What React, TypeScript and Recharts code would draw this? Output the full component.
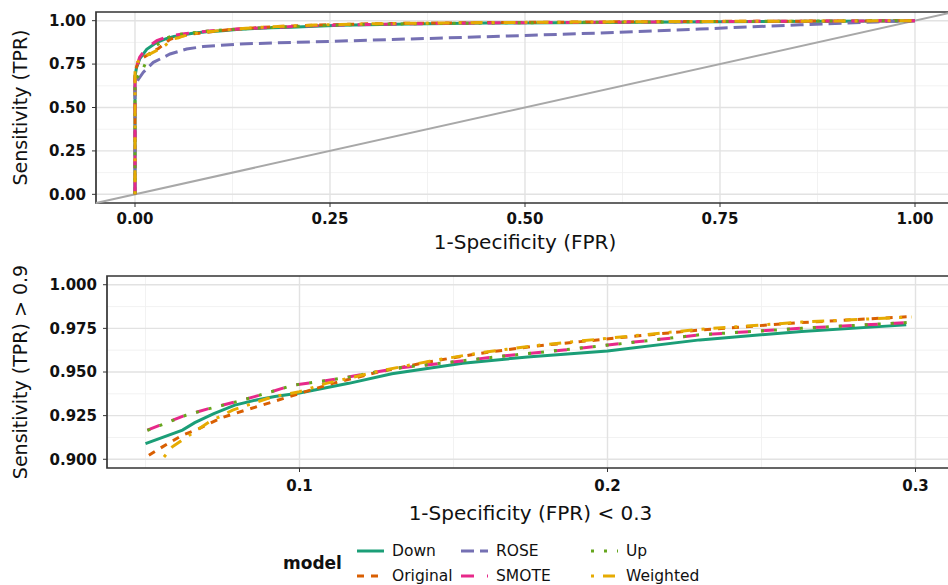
import React from "react";
import {
  CartesianGrid,
  Label,
  Line,
  LineChart,
  ReferenceArea,
  ReferenceLine,
  XAxis,
  YAxis,
} from "recharts";

const FONT = "'DejaVu Sans', sans-serif";

const models = ["Down", "Original", "ROSE", "SMOTE", "Up", "Weighted"];

const colors: Record<string, string> = {
  Down: "#1B9E77",
  Original: "#D95F02",
  ROSE: "#7570B3",
  SMOTE: "#E7298A",
  Up: "#66A61E",
  Weighted: "#E6AB02",
};

const dashes: Record<string, string | undefined> = {
  Down: undefined,
  Original: "7 7",
  ROSE: "13 6",
  SMOTE: "13 13",
  Up: "3 10",
  Weighted: "3 9 12 9",
};

// ROC points (fpr = 1-specificity, tpr = sensitivity)
const downFpr = [0, 0, 0.002, 0.006, 0.015, 0.028, 0.04, 0.05, 0.062, 0.066, 0.072, 0.079, 0.086, 0.092, 0.1, 0.116, 0.13, 0.153, 0.175, 0.2, 0.23, 0.263, 0.297, 0.35, 0.45, 0.6, 0.75, 0.9, 1];
const downTpr = [0, 0.68, 0.73, 0.78, 0.835, 0.875, 0.897, 0.909, 0.9167, 0.921, 0.926, 0.931, 0.934, 0.936, 0.938, 0.9435, 0.949, 0.955, 0.9588, 0.962, 0.9684, 0.9732, 0.977, 0.981, 0.986, 0.99, 0.994, 0.997, 1];

const originalFpr = [0, 0, 0.003, 0.01, 0.02, 0.03, 0.04, 0.045, 0.0511, 0.0555, 0.062, 0.0674, 0.075, 0.0826, 0.0913, 0.1, 0.1108, 0.1261, 0.1423, 0.1586, 0.1749, 0.1912, 0.2053, 0.2303, 0.2629, 0.2987, 0.35, 0.45, 0.6, 0.75, 0.9, 1];
const originalTpr = [0, 0.7, 0.75, 0.785, 0.815, 0.84, 0.875, 0.893, 0.9023, 0.9071, 0.9138, 0.9176, 0.924, 0.9282, 0.9329, 0.9377, 0.9435, 0.9502, 0.9559, 0.9607, 0.9645, 0.9674, 0.9699, 0.9741, 0.9783, 0.9818, 0.985, 0.989, 0.993, 0.996, 0.998, 1];

const roseFpr = [0, 0, 0.004, 0.0107, 0.0235, 0.0449, 0.0662, 0.0876, 0.109, 0.135, 0.25, 0.4, 0.5, 0.596, 0.724, 0.853, 0.95, 1];
const roseTpr = [0, 0.62, 0.66, 0.703, 0.76, 0.808, 0.837, 0.851, 0.858, 0.866, 0.881, 0.901, 0.915, 0.929, 0.952, 0.976, 0.993, 1];

const smoteFpr = [0, 0, 0.002, 0.006, 0.015, 0.028, 0.04, 0.0506, 0.0631, 0.0707, 0.0805, 0.0891, 0.0978, 0.1065, 0.1163, 0.1315, 0.1478, 0.1641, 0.1858, 0.2053, 0.2303, 0.2629, 0.2976, 0.35, 0.45, 0.6, 0.75, 0.9, 1];
const smoteTpr = [0, 0.66, 0.735, 0.79, 0.845, 0.885, 0.905, 0.9167, 0.9253, 0.9291, 0.9335, 0.9377, 0.9425, 0.9444, 0.9473, 0.9521, 0.9553, 0.9588, 0.9626, 0.9665, 0.9713, 0.9751, 0.9783, 0.982, 0.987, 0.991, 0.995, 0.998, 1];

const upFpr = [0, 0, 0.004, 0.009, 0.019, 0.028, 0.04, 0.0506, 0.0631, 0.0707, 0.0805, 0.0891, 0.0978, 0.1065, 0.1163, 0.1315, 0.1478, 0.1641, 0.1858, 0.2053, 0.2303, 0.2629, 0.2976, 0.35, 0.45, 0.6, 0.75, 0.9, 1];
const upTpr = [0, 0.66, 0.68, 0.71, 0.81, 0.86, 0.9, 0.9165, 0.9252, 0.929, 0.9334, 0.9378, 0.9424, 0.9445, 0.9472, 0.9522, 0.9554, 0.9587, 0.9627, 0.9664, 0.9714, 0.975, 0.9784, 0.982, 0.987, 0.991, 0.995, 0.998, 1];

const weightedFpr = [0, 0, 0.003, 0.01, 0.02, 0.035, 0.045, 0.05, 0.056, 0.0587, 0.0642, 0.0707, 0.0783, 0.0913, 0.1, 0.1087, 0.1261, 0.1423, 0.1586, 0.1749, 0.1912, 0.2053, 0.2303, 0.2629, 0.2987, 0.35, 0.45, 0.6, 0.75, 0.9, 1];
const weightedTpr = [0, 0.72, 0.76, 0.79, 0.81, 0.845, 0.88, 0.8965, 0.9013, 0.9071, 0.9138, 0.9214, 0.9282, 0.9358, 0.9387, 0.9435, 0.9506, 0.9562, 0.961, 0.9648, 0.9678, 0.9702, 0.9745, 0.9786, 0.9815, 0.985, 0.989, 0.993, 0.996, 0.998, 1];

const topTicks = [0, 0.25, 0.5, 0.75, 1];
const topMinor = [0.125, 0.375, 0.625, 0.875];
const zoomXTicks = [0.1, 0.2, 0.3];
const zoomXMinor = [0.05, 0.15, 0.25];
const zoomYTicks = [0.9, 0.925, 0.95, 0.975, 1];
const zoomYMinor = [0.9125, 0.9375, 0.9625, 0.9875];

const zip = (xs: number[], ys: number[]) => xs.map((x, i) => ({ fpr: x, tpr: ys[i] }));

const rocData: Record<string, { fpr: number; tpr: number }[]> = {
  Down: zip(downFpr, downTpr),
  Original: zip(originalFpr, originalTpr),
  ROSE: zip(roseFpr, roseTpr),
  SMOTE: zip(smoteFpr, smoteTpr),
  Up: zip(upFpr, upTpr),
  Weighted: zip(weightedFpr, weightedTpr),
};

// lower panel: the same curves cut to FPR 0.05-0.3 and TPR > 0.9
const zoomData: Record<string, { fpr: number; tpr: number }[]> = {};
models.forEach((m) => {
  zoomData[m] = rocData[m].filter((d) => d.fpr >= 0.05 && d.fpr <= 0.3 && d.tpr > 0.9);
});

const tickStyle = { fill: "#111", fontSize: 15, fontWeight: "bold", fontFamily: FONT };

const yTitle = (text: string) => (props: any) => {
  const vb = props.viewBox;
  const cy = vb.y + vb.height / 2;
  return (
    <text x={20} y={cy} transform={`rotate(-90, 20, ${cy})`} textAnchor="middle"
      dominantBaseline="central" fontSize={19} fill="#111" fontFamily={FONT}>
      {text}
    </text>
  );
};

const xTitle = (text: string, dy: number) => (props: any) => {
  const vb = props.viewBox;
  return (
    <text x={vb.x + vb.width / 2} y={vb.y + dy} textAnchor="middle"
      dominantBaseline="central" fontSize={20} fill="#111" fontFamily={FONT}>
      {text}
    </text>
  );
};

function Series(data: Record<string, { fpr: number; tpr: number }[]>) {
  return models.map((m) => (
    <Line
      key={m}
      data={data[m]}
      dataKey="tpr"
      type="linear"
      stroke={colors[m]}
      strokeWidth={3}
      strokeDasharray={dashes[m]}
      dot={false}
      activeDot={false}
      isAnimationActive={false}
    />
  ));
}

function Legend() {
  const cols = [357, 461, 591];
  const rows = [551, 576];
  return (
    <svg width={948} height={585} style={{ position: "absolute", left: 0, top: 0 }}>
      <text x={283} y={563} dominantBaseline="central" fontSize={17} fontWeight="bold"
        fontFamily={FONT} fill="#111">model</text>
      {models.map((m, i) => {
        const x = cols[Math.floor(i / 2)];
        const y = rows[i % 2];
        return (
          <g key={m}>
            <line x1={x} x2={x + 27} y1={y} y2={y} stroke={colors[m]} strokeWidth={3}
              strokeDasharray={dashes[m]} />
            <text x={x + 35} y={y} dominantBaseline="central" fontSize={15.5}
              fontFamily={FONT} fill="#111">{m}</text>
          </g>
        );
      })}
    </svg>
  );
}

export default function App() {
  return (
    <div style={{ position: "absolute", left: 0, top: 0, width: 948, height: 585, overflow: "hidden", background: "#fff" }}>
      <div style={{ position: "absolute", left: 0, top: 0 }}>
        <LineChart width={960} height={262} margin={{ top: 12, right: 6, bottom: 0, left: 0 }}>
          <CartesianGrid horizontalValues={topMinor} verticalValues={topMinor} stroke="#f1f1f1" strokeWidth={0.9} />
          <CartesianGrid horizontalValues={topTicks} verticalValues={topTicks} stroke="#e2e2e2" strokeWidth={1.4} />
          <XAxis type="number" dataKey="fpr" domain={[-0.05, 1.05]} ticks={topTicks} allowDataOverflow
            height={59} tickFormatter={(v: number) => v.toFixed(2)} tick={tickStyle} tickSize={4}
            tickMargin={6} axisLine={false} tickLine={{ stroke: "#333" }}>
            <Label content={xTitle("1-Specificity (FPR)", 39)} />
          </XAxis>
          <YAxis type="number" domain={[-0.05, 1.05]} ticks={topTicks} allowDataOverflow width={96}
            tickFormatter={(v: number) => v.toFixed(2)} tick={tickStyle} tickSize={4} tickMargin={6}
            axisLine={false} tickLine={{ stroke: "#333" }}>
            <Label content={yTitle("Sensitivity (TPR)")} />
          </YAxis>
          <ReferenceLine segment={[{ x: -0.05, y: -0.05 }, { x: 1.05, y: 1.05 }]} stroke="#a8a8a8"
            strokeWidth={2} ifOverflow="visible" />
          {Series(rocData)}
          <ReferenceArea x1={-0.05} x2={1.05} y1={-0.05} y2={1.05} fill="none" fillOpacity={0}
            stroke="#333" strokeWidth={1.7} ifOverflow="visible" />
        </LineChart>
      </div>
      <div style={{ position: "absolute", left: 0, top: 262 }}>
        <LineChart width={960} height={280} margin={{ top: 14, right: 6, bottom: 0, left: 0 }}>
          <CartesianGrid horizontalValues={zoomYMinor} verticalValues={zoomXMinor} stroke="#f1f1f1" strokeWidth={0.9} />
          <CartesianGrid horizontalValues={zoomYTicks} verticalValues={zoomXTicks} stroke="#e2e2e2" strokeWidth={1.4} />
          <XAxis type="number" dataKey="fpr" domain={[0.0375, 0.3125]} ticks={zoomXTicks} allowDataOverflow
            height={74} tickFormatter={(v: number) => v.toFixed(1)} tick={tickStyle} tickSize={4}
            tickMargin={8} axisLine={false} tickLine={{ stroke: "#333" }}>
            <Label content={xTitle("1-Specificity (FPR) < 0.3", 45)} />
          </XAxis>
          <YAxis type="number" domain={[0.895, 1.005]} ticks={zoomYTicks} allowDataOverflow width={107}
            tickFormatter={(v: number) => v.toFixed(3)} tick={tickStyle} tickSize={4} tickMargin={6}
            axisLine={false} tickLine={{ stroke: "#333" }}>
            <Label content={yTitle("Sensitivity (TPR) > 0.9")} />
          </YAxis>
          {Series(zoomData)}
          <ReferenceArea x1={0.0375} x2={0.3125} y1={0.895} y2={1.005} fill="none" fillOpacity={0}
            stroke="#333" strokeWidth={1.7} ifOverflow="visible" />
        </LineChart>
      </div>
      <Legend />
    </div>
  );
}
